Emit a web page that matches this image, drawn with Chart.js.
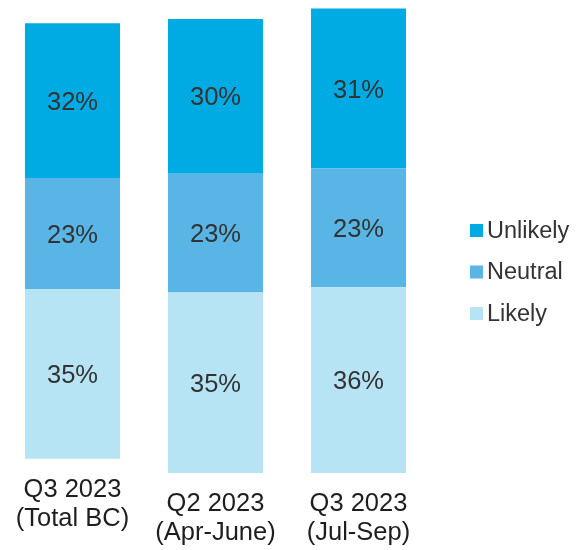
<!DOCTYPE html>
<html>
<head>
<meta charset="utf-8">
<script src="https://cdn.jsdelivr.net/npm/chart.js@4.4.1/dist/chart.umd.min.js"></script>
<style>
  html, body { margin: 0; padding: 0; background: #fff; }
  #wrap { width: 577px; height: 550px; }
</style>
</head>
<body>
<div id="wrap"><canvas id="likelihoodChart"></canvas></div>
<script>
// Survey columns and stacked shares (%)
const CATEGORIES = [["Q3 2023", "(Total BC)"], ["Q2 2023", "(Apr-June)"], ["Q3 2023", "(Jul-Sep)"]];
const SERIES = ["Likely", "Neutral", "Unlikely"];
const LIKELY = [35, 35, 36];
const NEUTRAL = [23, 23, 23];
const UNLIKELY = [32, 30, 31];
const COLORS = ["#B6E4F5", "#59B5E6", "#00ABE4"];

// Total BC column is pasted in on its own scale
const AXIS_FOR = ["yTotal", "y", "y"];

const FONT = "'Liberation Sans', Arial, sans-serif";

// one dataset per series per scale, nulls where the column belongs to the other scale
function buildDatasets() {
  const values = [LIKELY, NEUTRAL, UNLIKELY];
  const out = [];
  ["yTotal", "y"].forEach(axis => {
    SERIES.forEach((name, s) => {
      out.push({
        label: name,
        yAxisID: axis,
        data: values[s].map((v, i) => AXIS_FOR[i] === axis ? v : null),
        backgroundColor: COLORS[s],
        borderWidth: 0,
        grouped: false,
        barPercentage: 1,
        categoryPercentage: 0.665
      });
    });
  });
  return out;
}

// ===== percentage text inside each segment =====
const segmentLabels = {
  id: "segmentLabels",
  afterDatasetsDraw(chart) {
    const ctx = chart.ctx;
    ctx.save();
    ctx.font = `25.5px ${FONT}`;
    ctx.fillStyle = "#333333";
    ctx.textAlign = "center";
    ctx.textBaseline = "middle";
    chart.data.datasets.forEach((ds, d) => {
      chart.getDatasetMeta(d).data.forEach((bar, i) => {
        const v = ds.data[i];
        if (v == null) return;
        ctx.fillText(v + "%", bar.x, (bar.y + bar.base) / 2 + 2);
      });
    });
    ctx.restore();
  }
};

// ===== two-line category text under each bar =====
const categoryLabels = {
  id: "categoryLabels",
  afterDraw(chart) {
    const ctx = chart.ctx;
    const x = chart.scales.x;
    ctx.save();
    ctx.font = `25.5px ${FONT}`;
    ctx.fillStyle = "#1e1e1e";
    ctx.textAlign = "center";
    ctx.textBaseline = "middle";
    CATEGORIES.forEach((lines, i) => {
      const base = chart.scales[AXIS_FOR[i]].getPixelForValue(0);
      lines.forEach((t, k) => ctx.fillText(t, x.getPixelForValue(i), base + 31 + k * 29));
    });
    ctx.restore();
  }
};

// ===== legend on the right, top series first =====
const sideLegend = {
  id: "sideLegend",
  afterDraw(chart) {
    const ctx = chart.ctx;
    const area = chart.chartArea;
    const left = area.right + 40;
    const mid = 272;
    const gap = 41.5;
    ctx.save();
    ctx.font = `23.5px ${FONT}`;
    ctx.textBaseline = "middle";
    ctx.textAlign = "left";
    [2, 1, 0].forEach((s, row) => {
      const cy = mid + (row - 1) * gap;
      ctx.fillStyle = COLORS[s];
      ctx.fillRect(left, cy - 6.5, 13, 13);
      ctx.fillStyle = "#333333";
      ctx.fillText(SERIES[s], left + 17, cy + 1);
    });
    ctx.restore();
  }
};

new Chart(document.getElementById("likelihoodChart"), {
  type: "bar",
  data: {
    labels: CATEGORIES,
    datasets: buildDatasets()
  },
  options: {
    responsive: true,
    maintainAspectRatio: false,
    animation: false,
    layout: { padding: { left: 1, right: 147, top: 5, bottom: 77 } },
    plugins: {
      legend: { display: false },
      tooltip: { enabled: false }
    },
    scales: {
      x: { stacked: true, display: false },
      y: { stacked: true, display: false, min: 0, max: 90.7 },
      yTotal: { stacked: true, display: false, min: -2.95, max: 93.75 }
    }
  },
  plugins: [segmentLabels, categoryLabels, sideLegend]
});
</script>
</body>
</html>
